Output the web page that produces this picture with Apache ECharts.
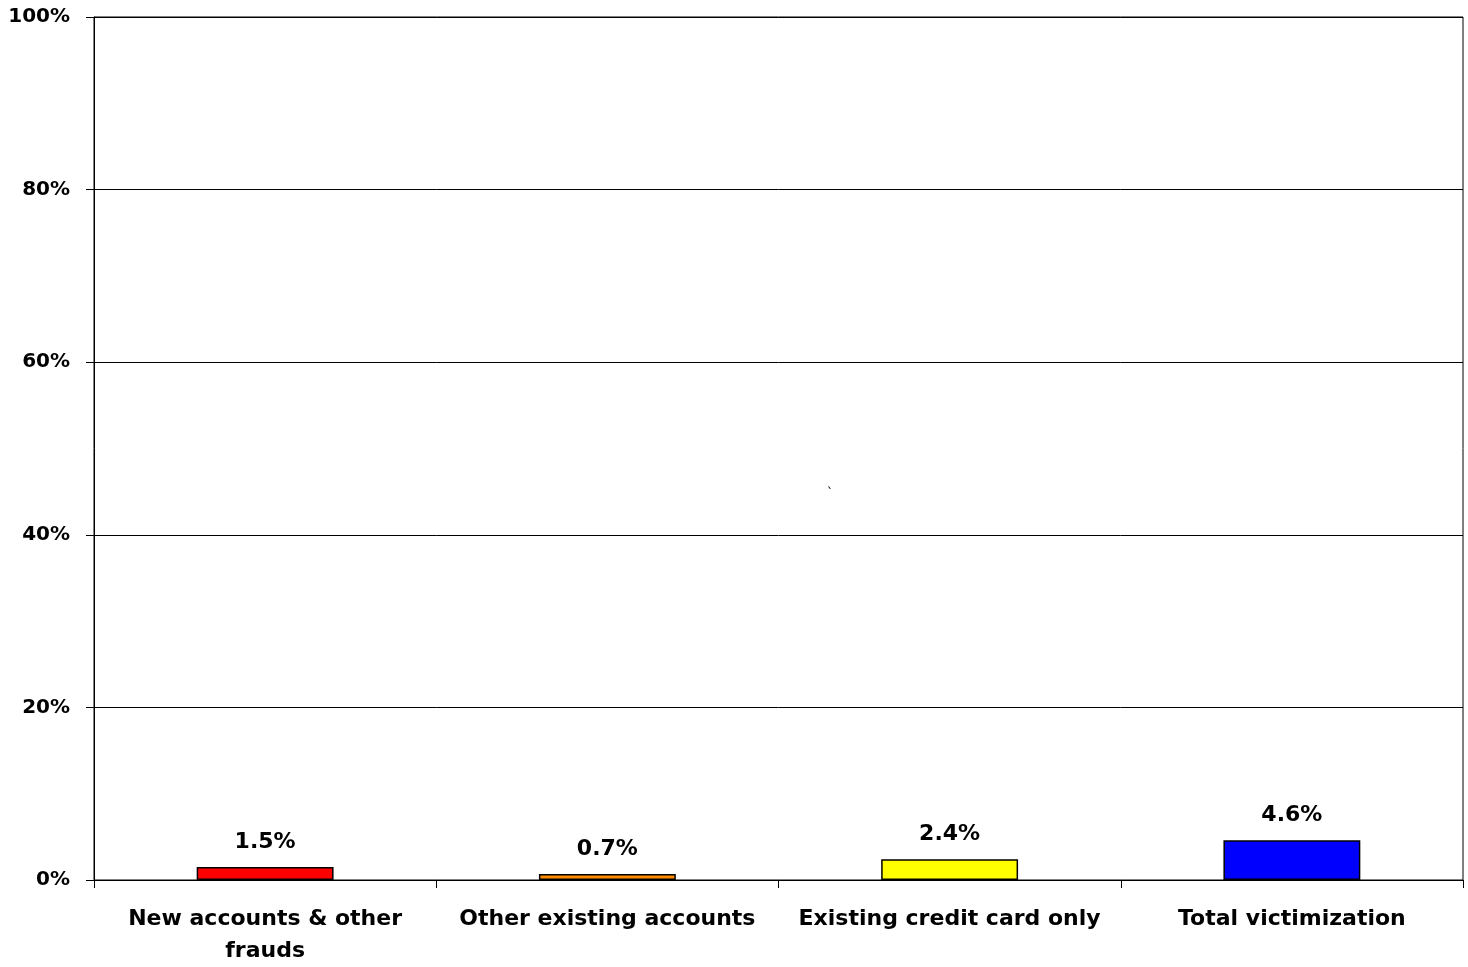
<!DOCTYPE html>
<html>
<head>
<meta charset="utf-8">
<script src="https://cdn.jsdelivr.net/npm/echarts@6/dist/echarts.min.js"></script>
<style>
html,body{margin:0;padding:0;background:#fff;overflow:hidden;}
#chart{width:1468px;height:967px;}
</style>
</head>
<body>
<div id="chart"></div>
<script>
const categories = ['New accounts & other\nfrauds', 'Other existing accounts', 'Existing credit card only', 'Total victimization'];
const values = [1.5, 0.7, 2.4, 4.6];
const barColors = ['#FF0000', '#FF8C00', '#FFFF00', '#0000FF'];
const yTicks = [0, 20, 40, 60, 80, 100];

const font = '"DejaVu Sans", Verdana, sans-serif';
const chart = echarts.init(document.getElementById('chart'), null, {renderer: 'canvas', width: 1468, height: 967});
chart.setOption({
  backgroundColor: '#fff',
  animation: false,
  grid: {left: 94, top: 17, width: 1369, height: 866, show: true, borderColor: '#000', borderWidth: 1, containLabel: false},
  xAxis: {
    type: 'category',
    data: categories,
    axisLine: {lineStyle: {color: '#000', width: 1}},
    axisTick: {show: true, length: 8, alignWithLabel: false, lineStyle: {color: '#000'}},
    axisLabel: {color: '#000', fontFamily: font, fontWeight: 'bold', fontSize: 22, margin: 23, lineHeight: 32, interval: 0}
  },
  yAxis: {
    type: 'value',
    min: yTicks[0], max: yTicks[yTicks.length - 1], interval: 20,
    axisLine: {show: true, lineStyle: {color: '#000'}},
    axisTick: {show: true, length: 8, lineStyle: {color: '#000'}},
    splitLine: {show: true, lineStyle: {color: '#000', width: 1}},
    axisLabel: {color: '#000', fontFamily: font, fontWeight: 'bold', fontSize: 20, margin: 24, formatter: v => v + '%'}
  },
  series: [{
    type: 'bar',
    barWidth: '40%',
    data: values.map((v, i) => ({value: v, itemStyle: {color: barColors[i]}})),
    itemStyle: {borderColor: '#000', borderWidth: 1.5},
    label: {show: true, position: 'top', distance: 14, color: '#000', fontFamily: font, fontWeight: 'bold', fontSize: 22, formatter: p => p.value.toFixed(1) + '%'}
  }],
  graphic: [{type: 'text', left: 827, top: 488, style: {text: '`', fill: '#000', font: '12px ' + font}}]
});
</script>
</body>
</html>
